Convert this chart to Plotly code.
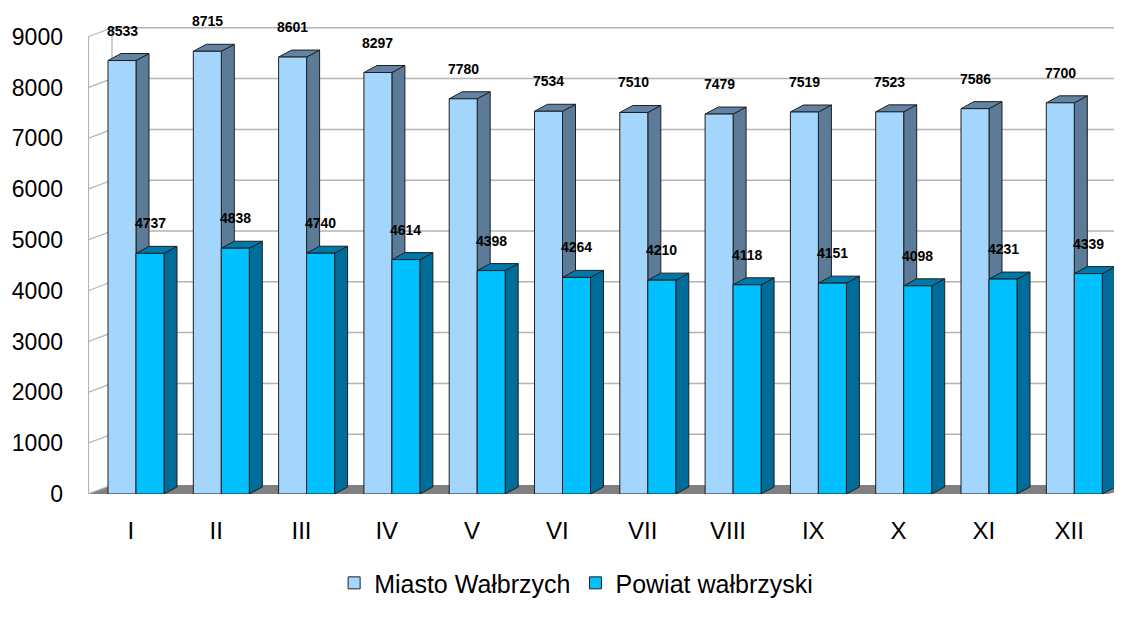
import plotly.graph_objects as go

categories = ["I", "II", "III", "IV", "V", "VI", "VII", "VIII", "IX", "X", "XI", "XII"]
miasto = [8533, 8715, 8601, 8297, 7780, 7534, 7510, 7479, 7519, 7523, 7586, 7700]
powiat = [4737, 4838, 4740, 4614, 4398, 4264, 4210, 4118, 4151, 4098, 4231, 4339]
y_ticks = list(range(0, 10000, 1000))

# the page body has an 8px margin, so the figure is offset by 8px
W, H = 1122, 628
ML, MR, MT, MB = 80, 10, 12, 142
plot_w = W - ML - MR
plot_h = H - MT - MB
KX = 85.3     # px per category
KY = 0.0508   # px per unit
x0 = -48 / KX
x1 = x0 + plot_w / KX
y1 = plot_h / KY

bw = 28 / KX           # bar front width
bdx, bdy = 13 / KX, 7 / KY   # bar depth
wdx, wdy = 24 / KX, 9 / KY   # wall depth

GRID = "#b3b3b3"
EDGE = "#1f1f1f"
M_FRONT, M_SIDE, M_TOP = "#a3d5fd", "#5c7b99", "#6283a3"
P_FRONT, P_SIDE, P_TOP = "#00c0ff", "#006c99", "#0078aa"

idx = list(range(len(categories)))
shapes = []

def path(pts):
    return "M " + " L ".join(f"{x},{y}" for x, y in pts) + " Z"

# floor
shapes.append(dict(type="path", xref="x", yref="y", layer="below",
                   path=path([(x0, 0), (x1 - 12 / KX, 0), (x1 + wdx, wdy), (x0 + wdx, wdy)]),
                   fillcolor="#808080", line=dict(width=0)))
# back wall grid lines and side wall diagonals
for v in y_ticks:
    if v > 0:
        shapes.append(dict(type="line", xref="x", yref="y", layer="below",
                           x0=x0 + wdx, x1=x1, y0=v + wdy, y1=v + wdy,
                           line=dict(color=GRID, width=1.5)))
    shapes.append(dict(type="line", xref="x", yref="y", layer="below",
                       x0=x0, x1=x0 + wdx, y0=v, y1=v + wdy,
                       line=dict(color=GRID, width=1.2)))
shapes.append(dict(type="line", xref="x", yref="y", layer="below",
                   x0=x0 + wdx, x1=x0 + wdx, y0=wdy, y1=y_ticks[-1] + wdy,
                   line=dict(color=GRID, width=1.2)))
shapes.append(dict(type="line", xref="x", yref="y", layer="below",
                   x0=x0 + 0.004, x1=x0 + 0.004, y0=0, y1=y_ticks[-1],
                   line=dict(color=GRID, width=1.5)))

# bar side & top faces
def faces(xl, v, side, top):
    xr = xl + bw
    shapes.append(dict(type="path", xref="x", yref="y", layer="below",
                       path=path([(xr, 0), (xr, v), (xr + bdx, v + bdy), (xr + bdx, bdy)]),
                       fillcolor=side, line=dict(color=EDGE, width=1)))
    shapes.append(dict(type="path", xref="x", yref="y", layer="below",
                       path=path([(xl, v), (xr, v), (xr + bdx, v + bdy), (xl + bdx, v + bdy)]),
                       fillcolor=top, line=dict(color=EDGE, width=1)))

for i, m, p in zip(idx, miasto, powiat):
    faces(i - bw, m, M_SIDE, M_TOP)
    faces(i, p, P_SIDE, P_TOP)

fig = go.Figure()
fig.add_trace(go.Bar(x=idx, y=miasto, width=bw, offset=-bw, name="Miasto Wałbrzych",
                     marker=dict(color=M_FRONT, line=dict(color=EDGE, width=1)),
                     hoverinfo="y"))
fig.add_trace(go.Bar(x=idx, y=powiat, width=bw, offset=0, name="Powiat wałbrzyski",
                     marker=dict(color=P_FRONT, line=dict(color=EDGE, width=1)),
                     hoverinfo="y"))

annotations = []
lab_font = dict(family="Liberation Sans, Arial, sans-serif", size=14, color="black")
for i, m, p in zip(idx, miasto, powiat):
    annotations.append(dict(x=i - bw / 2, y=m, xref="x", yref="y", text=f"<b>{m}</b>",
                            showarrow=False, yshift=30, font=lab_font))
    annotations.append(dict(x=i + bw / 2, y=p, xref="x", yref="y", text=f"<b>{p}</b>",
                            showarrow=False, yshift=30, font=lab_font))

fig.update_layout(
    width=W, height=H,
    margin=dict(l=ML, r=MR, t=MT, b=MB, autoexpand=False),
    paper_bgcolor="white", plot_bgcolor="white",
    barmode="overlay",
    font=dict(family="Liberation Sans, Arial, sans-serif", size=22, color="black"),
    shapes=shapes, annotations=annotations,
    showlegend=True,
    legend=dict(orientation="h", x=0.473, xanchor="center", y=-0.188, yanchor="middle",
                font=dict(size=25), itemwidth=30, traceorder="normal"),
    xaxis=dict(range=[x0, x1], tickvals=[i - 0.06 for i in idx], ticktext=categories,
               showgrid=False, zeroline=False, showline=False, ticks="",
               tickfont=dict(size=24), automargin=False,
               ticklabelstandoff=20, fixedrange=True),
    yaxis=dict(range=[0, y1], tickvals=y_ticks, showgrid=False, zeroline=False,
               showline=False, ticks="", tickfont=dict(size=23), automargin=False,
               ticklabelstandoff=24, fixedrange=True),
)

fig.write_html("out.html")
